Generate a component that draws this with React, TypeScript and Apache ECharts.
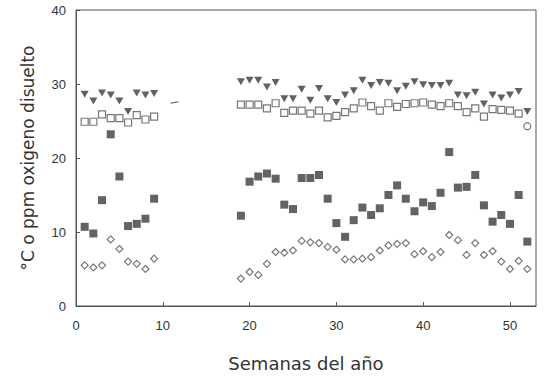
import React, { useEffect, useRef } from "react";
import * as echarts from "echarts";

const weeksA = [1, 2, 3, 4, 5, 6, 7, 8, 9];
const weeksB = [19, 20, 21, 22, 23, 24, 25, 26, 27, 28, 29, 30, 31, 32, 33, 34, 35, 36, 37, 38, 39, 40, 41, 42, 43, 44, 45, 46, 47, 48, 49, 50, 51, 52];

// filled down-triangles
const triA = [28.6, 27.7, 28.8, 28.5, 27.7, 26.3, 28.8, 28.5, 28.7];
const triB = [30.3, 30.5, 30.5, 29.6, 30.2, 28.0, 28.0, 29.3, 27.8, 29.4, 28.0, 27.5, 28.5, 29.1, 30.5, 29.8, 30.2, 30.1, 29.1, 29.7, 30.3, 29.9, 29.8, 29.8, 30.1, 28.5, 28.4, 28.9, 27.3, 28.5, 28.1, 28.5, 29.0, 26.3];

// open squares
const openSqA = [24.9, 24.9, 25.9, 25.4, 25.4, 24.8, 25.8, 25.2, 25.6];
const openSqB = [27.2, 27.2, 27.2, 26.7, 27.4, 26.1, 26.4, 26.4, 26.0, 26.4, 25.5, 25.7, 26.2, 26.7, 27.5, 27.0, 26.4, 27.4, 26.9, 27.3, 27.4, 27.5, 27.2, 27.0, 27.4, 27.0, 26.2, 26.7, 25.6, 26.6, 26.5, 26.4, 26.0, 24.3];

// filled squares
const fillSqA = [10.7, 9.8, 14.3, 23.2, 17.5, 10.8, 11.1, 11.8, 14.5];
const fillSqB = [12.2, 16.8, 17.5, 17.9, 17.2, 13.7, 13.1, 17.3, 17.3, 17.7, 14.5, 11.2, 9.35, 11.6, 13.3, 12.3, 13.2, 15.0, 16.3, 14.5, 12.8, 14.0, 13.5, 15.3, 20.8, 16.0, 16.1, 17.7, 13.6, 11.4, 12.3, 11.1, 15.0, 8.7];

// open diamonds
const diaA = [5.5, 5.2, 5.5, 9.0, 7.7, 6.0, 5.7, 5.0, 6.4];
const diaB = [3.7, 4.6, 4.2, 5.7, 7.3, 7.2, 7.5, 8.8, 8.6, 8.5, 8.0, 7.6, 6.3, 6.3, 6.4, 6.6, 7.5, 8.2, 8.4, 8.5, 7.0, 7.4, 6.6, 7.3, 9.6, 8.9, 6.9, 8.5, 6.9, 7.4, 6.0, 5.0, 6.1, 5.0];

// small stray dash on the original near week 11
const dashX = [10.9, 11.8];
const dashY = [27.4, 27.6];

const xTicks = [0, 10, 20, 30, 40, 50];
const yTicks = [0, 10, 20, 30, 40];

const pairs = (xs: number[], ys: number[]) => xs.map((x, i) => [x, ys[i]]);

export default function App() {
  const ref = useRef<HTMLDivElement>(null);
  useEffect(() => {
    if (!ref.current) return;
    const chart = echarts.init(ref.current, undefined, { renderer: "svg" });
    const axisColor = "#555";
    const labelColor = "#333";
    const font = "'Liberation Sans', Arial, sans-serif";
    const titleFont = "'DejaVu Sans', sans-serif";
    const openData = pairs(weeksA, openSqA).concat(pairs(weeksB, openSqB)).map((p, i, arr) =>
      i === arr.length - 1 ? { value: p, symbol: "circle" } : { value: p }
    );
    chart.setOption({
      animation: false,
      backgroundColor: "#fff",
      grid: {
        left: 76,
        right: 9,
        top: 10,
        bottom: 69,
        show: true,
        borderColor: axisColor,
        borderWidth: 1,
        backgroundColor: "transparent",
      },
      xAxis: {
        type: "value",
        min: 0,
        max: 53,
        interval: 10,
        name: "Semanas del año",
        nameLocation: "middle",
        nameGap: 48,
        nameTextStyle: { fontSize: 18, color: labelColor, fontFamily: titleFont },
        axisLine: { show: true, lineStyle: { color: axisColor, width: 1 } },
        axisTick: { show: true, inside: true, length: 4, lineStyle: { color: axisColor } },
        axisLabel: {
          fontSize: 13,
          color: labelColor,
          fontFamily: font,
          margin: 13,
          showMaxLabel: false,
          formatter: (v: number) => (xTicks.includes(v) ? String(v) : ""),
        },
        splitLine: { show: false },
      },
      yAxis: {
        type: "value",
        min: 0,
        max: 40,
        interval: 10,
        name: "°C o ppm oxigeno disuelto",
        nameLocation: "middle",
        nameGap: 40,
        nameTextStyle: { fontSize: 17, color: labelColor, fontFamily: titleFont },
        axisLine: { show: true, lineStyle: { color: axisColor, width: 1 } },
        axisTick: { show: true, inside: true, length: 4, lineStyle: { color: axisColor } },
        axisLabel: {
          fontSize: 13,
          color: labelColor,
          fontFamily: font,
          margin: 10,
          formatter: (v: number) => (yTicks.includes(v) ? String(v) : ""),
        },
        splitLine: { show: false },
      },
      series: [
        {
          type: "scatter",
          symbol: "triangle",
          symbolRotate: 180,
          symbolSize: [8, 7],
          itemStyle: { color: "#3a3a3a" },
          data: pairs(weeksA, triA).concat(pairs(weeksB, triB)),
        },
        {
          type: "scatter",
          symbol: "rect",
          symbolSize: 7,
          itemStyle: { color: "#fff", borderColor: "#555", borderWidth: 1.2 },
          data: openData,
        },
        {
          type: "scatter",
          symbol: "rect",
          symbolSize: 8,
          itemStyle: { color: "#3c3c3c" },
          data: pairs(weeksA, fillSqA).concat(pairs(weeksB, fillSqB)),
        },
        {
          type: "scatter",
          symbol: "diamond",
          symbolSize: 7,
          itemStyle: { color: "#fff", borderColor: "#555", borderWidth: 1.2 },
          data: pairs(weeksA, diaA).concat(pairs(weeksB, diaB)),
        },
        {
          type: "line",
          symbol: "none",
          lineStyle: { color: "#555", width: 1.2 },
          data: pairs(dashX, dashY),
        },
      ],
    });
    return () => chart.dispose();
  }, []);
  return <div ref={ref} style={{ width: 545, height: 377, position: "absolute", left: 0, top: 0 }} />;
}
